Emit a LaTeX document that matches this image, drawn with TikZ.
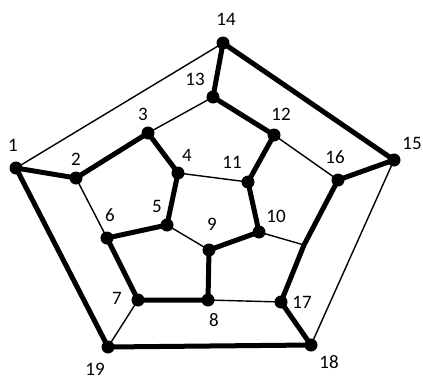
\documentclass[tikz,border=0pt]{standalone}
\usepackage{fontspec}
\setmainfont{Carlito}
\usetikzlibrary{positioning}
\tikzset{
  vtx/.style   = {circle, fill=black, minimum size=13pt, inner sep=0pt},
  lab/.style   = {font=\fontsize{19}{19}\selectfont, inner sep=0pt},
  ham/.style   = {line width=5pt, line cap=round, line join=round},
  rest/.style  = {line width=1.4pt},
}

\begin{document}
\begin{tikzpicture}[x=1pt, y=-1pt]
  \useasboundingbox (0,0) rectangle (423,380);
  % vertices
  \node[vtx] (v1)  at (16,168)  {};
  \node[vtx] (v2)  at (76,178)  {};
  \node[vtx] (v3)  at (148,133) {};
  \node[vtx] (v4)  at (178,173) {};
  \node[vtx] (v5)  at (167,225) {};
  \node[vtx] (v6)  at (107,238) {};
  \node[vtx] (v7)  at (138,300) {};
  \node[vtx] (v8)  at (208,300) {};
  \node[vtx] (v9)  at (209,250) {};
  \node[vtx] (v10) at (259,232) {};
  \node[vtx] (v11) at (248,182) {};
  \node[vtx] (v12) at (274,135) {};
  \node[vtx] (v13) at (213,97)  {};
  \node[vtx] (v14) at (223,43)  {};
  \node[vtx] (v15) at (394,160) {};
  \node[vtx] (v16) at (338,180) {};
  \node[vtx] (v17) at (281,302) {};
  \node[vtx] (v18) at (311,345) {};
  \node[vtx] (v19) at (108,347) {};
  \coordinate (v20) at (304,245);
  % labels
  \node[lab] (l1)  at (13,145)  {1};
  \node[lab] (l2)  at (76,159)  {2};
  \node[lab] (l3)  at (143,114) {3};
  \node[lab] (l4)  at (187,155) {4};
  \node[lab] (l5)  at (157,206) {5};
  \node[lab] (l6)  at (110,215) {6};
  \node[lab] (l7)  at (117,298) {7};
  \node[lab] (l8)  at (214,320) {8};
  \node[lab] (l9)  at (212,224) {9};
  \node[lab] (l10) at (276,216) {10};
  \node[lab] (l11) at (232,162) {11};
  \node[lab] (l12) at (281,114) {12};
  \node[lab] (l13) at (195,79)  {13};
  \node[lab] (l14) at (226,19)  {14};
  \node[lab] (l15) at (412,143) {15};
  \node[lab] (l16) at (335,157) {16};
  \node[lab] (l17) at (302,302) {17};
  \node[lab] (l18) at (329,362) {18};
  \node[lab] (l19) at (95,369)  {19};
  % edges off the cycle
  \foreach \a/\b in {1/14, 3/13, 4/11, 5/9, 2/6, 7/19, 8/17, 10/20, 12/16, 15/18}
    \draw[rest] (v\a.center) -- (v\b.center);
  % hamiltonian cycle
  \draw[ham] (v1.center) -- (v2.center) -- (v3.center) -- (v4.center) -- (v5.center)
    -- (v6.center) -- (v7.center) -- (v8.center) -- (v9.center) -- (v10.center)
    -- (v11.center) -- (v12.center) -- (v13.center) -- (v14.center) -- (v15.center)
    -- (v16.center) -- (v20) -- (v17.center) -- (v18.center) -- (v19.center) -- cycle;
\end{tikzpicture}
\end{document}
